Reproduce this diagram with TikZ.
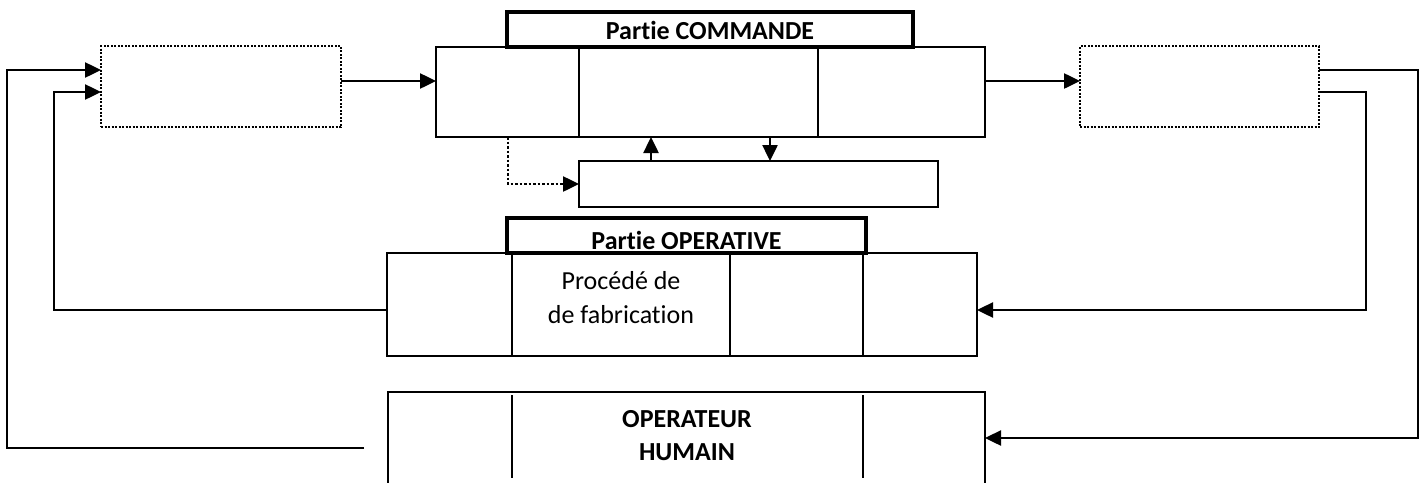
\documentclass[tikz,border=0pt]{standalone}
\usepackage{fontspec}
\setmainfont{Carlito}[Ligatures={NoCommon}]
\usetikzlibrary{arrows.meta}

\begin{document}
\begin{tikzpicture}[x=1pt, y=-1pt, font=\fontsize{26}{32}\selectfont]
  \tikzstyle{box}=[rectangle, draw, line width=2pt, inner sep=0pt, outer sep=0pt]
  \tikzstyle{dotbox}=[box, dash pattern=on 2pt off 1.5pt]
  \tikzstyle{titlebox}=[box, line width=3.5pt, fill=white]
  \tikzstyle{txt}=[inner sep=0pt, anchor=base]
  \tikzstyle{arr}=[-{Triangle[length=16pt, width=15pt]}, line width=2.5pt]
  \tikzstyle{dotline}=[dash pattern=on 2.5pt off 2pt]

  \useasboundingbox (0,0) rectangle (1423,482);
  \clip (0,0) rectangle (1423,482);

  % blocs du haut
  \node[dotbox, minimum width=240pt, minimum height=81pt] (lin)  at (221, 86.5) {};
  \node[dotbox, minimum width=239pt, minimum height=81pt] (rout) at (1199.5, 86.5) {};
  \node[box, minimum width=549pt, minimum height=90pt] (cmd) at (710.5, 92) {};
  \node[box, minimum width=359pt, minimum height=46pt] (mem) at (758.5, 184) {};
  \node[titlebox, minimum width=406pt, minimum height=35pt] (cmdtitle) at (710, 29.5) {};
  \node[txt, font=\fontsize{26}{32}\selectfont\bfseries] (cmdtxt) at (710, 39) {Partie COMMANDE};
  \draw[line width=2pt] (cmd.south -| 579,0) -- (cmd.north -| 579,0);
  \draw[line width=2pt] (cmd.south -| 818,0) -- (cmd.north -| 818,0);

  % partie operative
  \node[box, minimum width=590pt, minimum height=103pt] (op) at (682, 304.5) {};
  \node[titlebox, minimum width=359pt, minimum height=35pt] (optitle) at (686.5, 235.5) {};
  \node[txt, font=\fontsize{26}{32}\selectfont\bfseries] (optxt) at (686.5, 249) {Partie OPERATIVE};
  \foreach \x in {512, 730, 863}
    \draw[line width=2pt] (op.south -| \x,0) -- (op.north -| \x,0);
  \node[txt] (proc1) at (621, 289) {Procédé de};
  \node[txt] (proc2) at (621, 323) {de fabrication};

  % operateur humain
  \node[box, minimum width=597pt, minimum height=108pt] (hum) at (686.5, 446) {};
  \foreach \x in {512, 863}
    \draw[line width=2pt] (\x,395) -- (\x,478);
  \node[txt, font=\fontsize{26}{32}\selectfont\bfseries] (hum1) at (687, 427) {OPERATEUR};
  \node[txt, font=\fontsize{26}{32}\selectfont\bfseries] (hum2) at (687, 460) {HUMAIN};

  % liaisons
  \coordinate (hend) at (364, 448);
  \draw[arr] (lin.east |- 0,81) -- (cmd.west |- 0,81);
  \draw[arr] (cmd.east |- 0,81) -- (rout.west |- 0,81);
  \draw[arr] (mem.north -| 651,0) -- (cmd.south -| 651,0);
  \draw[arr] (cmd.south -| 770,0) -- (mem.north -| 770,0);
  \draw[arr, dotline] (cmd.south -| 508,0) |- (mem.west);
  \draw[arr] (hend) -- (7,448) |- (lin.west |- 0,70);
  \draw[arr] (op.west |- 0,310) -| (54,92) -- (lin.west |- 0,92);
  \draw[arr] (rout.east |- 0,70) -| (1418,438) -- (hum.east |- 0,438);
  \draw[arr] (rout.east |- 0,92) -| (1366,310) -- (op.east |- 0,310);
\end{tikzpicture}
\end{document}
